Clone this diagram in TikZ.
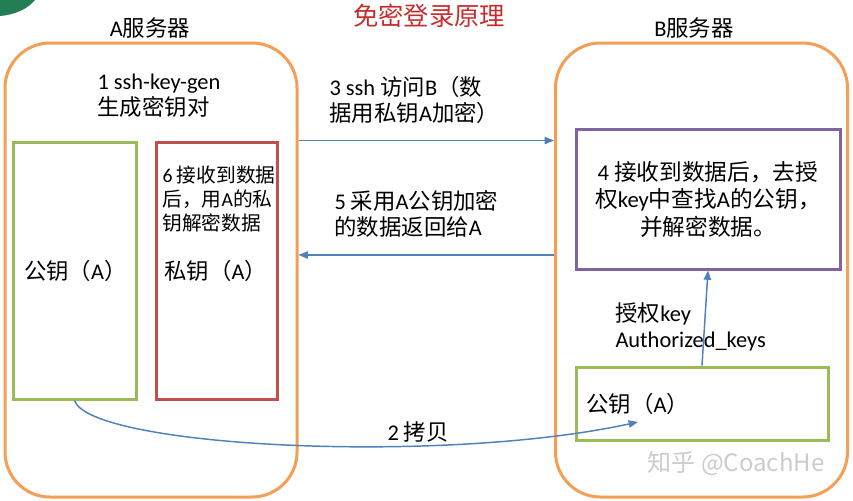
\documentclass[tikz,border=0pt]{standalone}
\usepackage{fontspec}
\setmainfont{Carlito}
\newfontfamily\cjk{Noto Sans CJK SC}
\usetikzlibrary{arrows.meta,positioning}

\definecolor{srvorange}{RGB}{245,158,85}
\definecolor{pubgreen}{RGB}{155,187,89}
\definecolor{prired}{RGB}{192,80,77}
\definecolor{chkpurple}{RGB}{128,100,162}
\definecolor{flowblue}{RGB}{79,129,189}
\definecolor{titlered}{RGB}{200,45,45}
\definecolor{leafgreen}{RGB}{35,125,85}

\tikzset{every picture/.style={line width=0.75pt},
  srvbox/.style={draw=srvorange, line width=2.25pt, rounded corners=33.75pt,
    minimum width=219pt, minimum height=340.5pt, inner sep=0pt},
  keybox/.style={line width=2.25pt, inner sep=0pt},
  flow/.style={draw=flowblue, line width=1.1pt, -{Triangle[length=7pt,width=5.5pt]}},
  txt/.style={inner sep=0pt, align=left, font=\fontsize{16.8}{19.5}\selectfont},
}

\begin{document}
\begin{tikzpicture}[x=0.75pt,y=0.75pt,yscale=-1,xscale=1]
\path[use as bounding box, fill=white] (0,0) rectangle (853,500);

%Leaf
\fill[leafgreen] (0,0) -- (35,0) .. controls (28,9) and (14,15) .. (0,16) -- cycle;

%Servers
\node[srvbox] (srvA) at (151,270) {};
\node[srvbox] (srvB) at (701.5,270) {};

%Key boxes
\node[keybox, draw=pubgreen, minimum width=92.25pt, minimum height=192.75pt] (pubA) at (74.5,270.5) {};
\node[keybox, draw=prired, minimum width=90.75pt, minimum height=192.75pt] (priA) at (216.5,270.5) {};
\node[keybox, draw=chkpurple, minimum width=198pt, minimum height=105pt, align=center,
  font=\fontsize{17}{20.6}\selectfont] (chkB) at (708,199)
  {4 {\cjk 接收到数据后，去授}\\{\cjk 权}key{\cjk 中查找}A{\cjk 的公钥，}\\{\cjk 并解密数据。}};
\node[keybox, draw=pubgreen, minimum width=189pt, minimum height=54.75pt] (pubB) at (702,403.5) {};

%Texts
\node[txt, right=9pt of pubA.west] (pubAtxt) {{\cjk 公钥（}A{\cjk ）}};
\node[txt, right=7pt of priA.west] (priAtxt) {{\cjk 私钥（}A{\cjk ）}};
\node[txt, right=8.5pt of pubB.west] (pubBtxt) {{\cjk 公钥（}A{\cjk ）}};

\node[txt] (nameA) at (150,28) {A{\cjk 服务器}};
\node[txt] (nameB) at (694,28) {B{\cjk 服务器}};
\node[txt, text=titlered, font=\fontsize{19}{22}\selectfont\cjk] (title) at (429,16) {免密登录原理};

\node[txt, anchor=west] (gen) at (97,95.5) {1 ssh-key-gen\\{\cjk 生成密钥对}};
\node[txt, anchor=west] (req) at (329,100) {3 ssh {\cjk 访问}B{\cjk （数}\\{\cjk 据用私钥}A{\cjk 加密）}};
\node[txt, anchor=west] (ret) at (334,213.5) {5 {\cjk 采用}A{\cjk 公钥加密}\\{\cjk 的数据返回给}A};
\node[txt, anchor=west, font=\fontsize{14.8}{18}\selectfont] (dec) at (162,199)
  {6 {\cjk 接收到数据}\\{\cjk 后，用}A{\cjk 的私}\\{\cjk 钥解密数据}};
\node[txt, anchor=west] (auth) at (615,327) {{\cjk 授权}key\\Authorized\_keys};
\node[txt, anchor=west] (copy) at (387,432) {2 {\cjk 拷贝}};
\node[txt, text=gray!40, font=\fontsize{18}{20}\selectfont\cjk] (mark) at (736,463) {知乎 @CoachHe};

%Arrows
\coordinate (back) at (426,255);
\coordinate (copyend) at (638,422);
\draw[flow] (srvA.east |- pubA.north) -- (srvB.west |- pubA.north);
\draw[flow] (srvB.west |- back) -- (srvA.east |- back);
\draw[flow] (pubA.south) .. controls (90,447) and (440,465) .. (copyend);
\draw[flow] (pubB.north) -- (chkB.south);
\end{tikzpicture}
\end{document}
